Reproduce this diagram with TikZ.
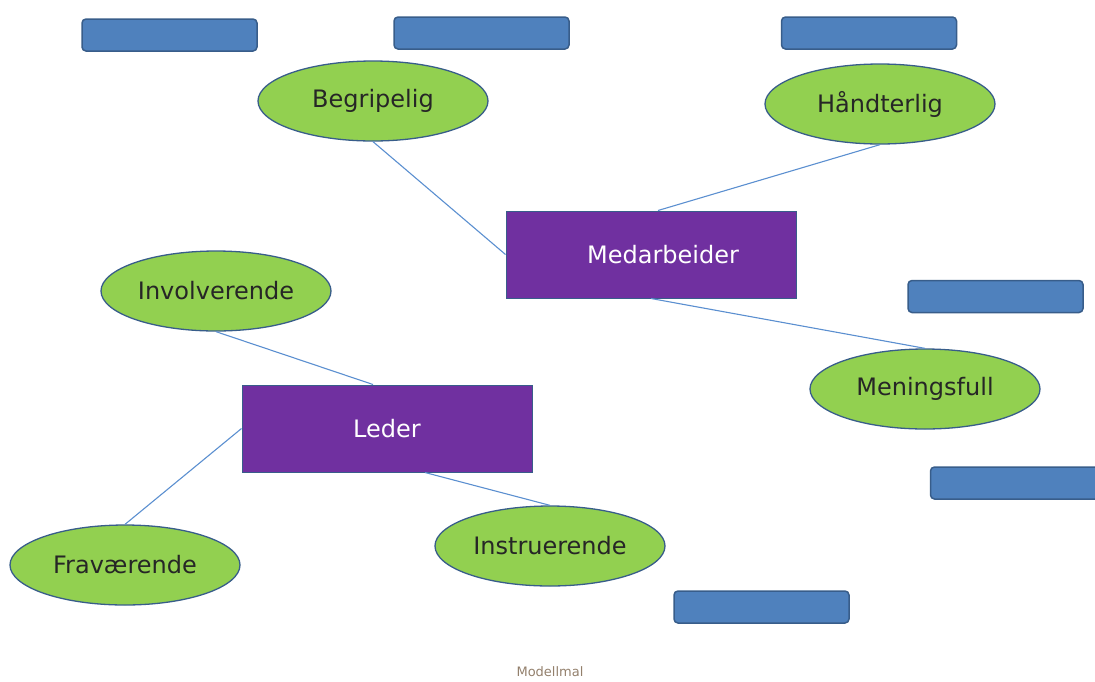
\documentclass[tikz,border=0pt]{standalone}
\usepackage{fontspec}
\setmainfont{DejaVu Sans}
\usetikzlibrary{shapes.geometric}
\definecolor{tagblue}{HTML}{4F81BD}
\definecolor{tagedge}{HTML}{385D8A}
\definecolor{leaf}{HTML}{92D050}
\definecolor{hub}{HTML}{7030A0}
\definecolor{link}{HTML}{5B8FD0}
\tikzset{
  tag/.style={draw=tagedge, line width=1.5pt, fill=tagblue, rounded corners=4pt,
    minimum width=175pt, minimum height=32pt, inner sep=0pt},
  leafnode/.style={ellipse, draw=tagedge, line width=1.3pt, fill=leaf,
    minimum width=230pt, minimum height=80pt, inner sep=0pt,
    font=\fontsize{24}{28}\selectfont, text=black!85},
  hubnode/.style={draw=tagedge, line width=1pt, fill=hub,
    minimum width=290pt, minimum height=87pt, inner sep=0pt,
    font=\fontsize{24}{28}\selectfont, text=white},
  linkline/.style={draw=link, line width=1.1pt}
}
\begin{document}
\begin{tikzpicture}[x=1pt, y=-1pt]
  \useasboundingbox (0,0) rectangle (1095,681);

  % placeholder tags
  \node[tag] (t1) at (169.5,35) {};
  \node[tag] (t2) at (481.5,33) {};
  \node[tag] (t3) at (869,33) {};
  \node[tag] (t4) at (995.5,296.5) {};
  \node[tag] (t5) at (1018,483) {};
  \node[tag] (t6) at (761.5,607) {};

  % central boxes
  \node[hubnode] (med) at (651,254.5) {\hspace*{24pt}Medarbeider};
  \node[hubnode] (led) at (387,428.5) {Leder};

  % qualities
  \node[leafnode] (beg) at (373,101) {Begripelig};
  \node[leafnode] (han) at (880,104) {Håndterlig};
  \node[leafnode] (mea) at (925,389) {Meningsfull};
  \node[leafnode] (inv) at (216,291) {Involverende};
  \node[leafnode] (fra) at (125,565) {Fraværende};
  \node[leafnode] (ins) at (550,546) {Instruerende};

  % connectors
  \path[linkline] (beg.south) -- (med.west);
  \path[linkline] (han.south) -- ([xshift=7pt]med.north);
  \path[linkline] (med.south) -- (mea.north);
  \path[linkline] (inv.south) -- ([xshift=-14pt]led.north);
  \path[linkline] (led.west) -- (fra.north);
  \path[linkline] ([xshift=38pt]led.south) -- (ins.north);

  \node[font=\fontsize{13}{15}\selectfont, text=gray!85!orange] (cap) at (550,672) {Modellmal};
\end{tikzpicture}
\end{document}
